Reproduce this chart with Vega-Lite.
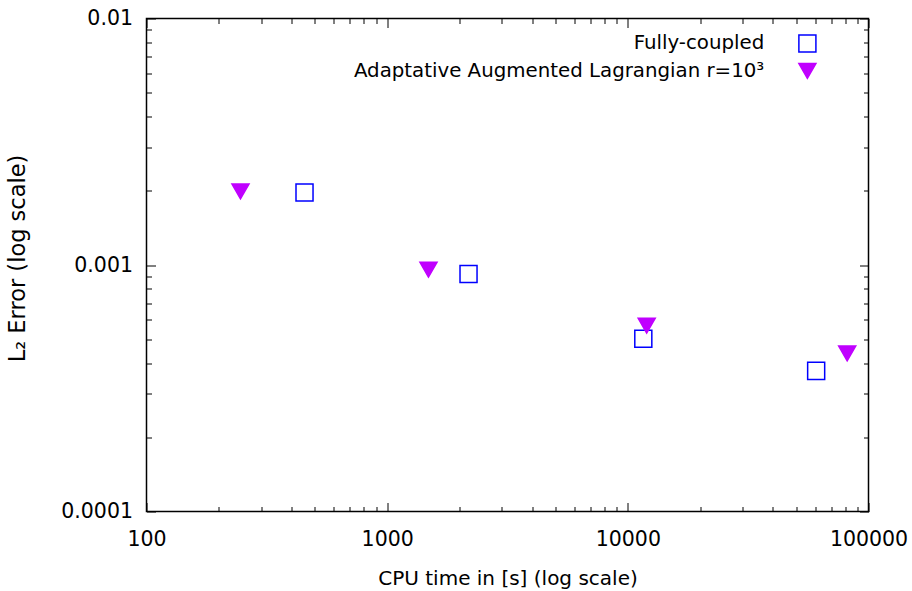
{
  "$schema": "https://vega.github.io/schema/vega-lite/v6.json",
  "width": 722,
  "height": 493,
  "autosize": {"type": "none"},
  "padding": {"left": 146.5, "top": 18.5, "right": 43.5, "bottom": 79.5},
  "background": "white",
  "config": {
    "view": {"stroke": "black", "strokeWidth": 1.5},
    "font": "DejaVu Sans",
    "axis": {"grid": false, "domain": false, "tickColor": "black", "tickWidth": 1, "labelColor": "black", "titleColor": "black", "labelFont": "DejaVu Sans", "titleFont": "DejaVu Sans", "labelFontSize": 20.5, "titleFontSize": 20, "titleFontWeight": "normal", "labelFlush": false, "labelOverlap": false, "labelBound": false}
  },
  "datasets": {
    "pts": [
      {"cpu": 453.5, "err": 0.001968, "method": "Fully-coupled"},
      {"cpu": 2178, "err": 0.000919, "method": "Fully-coupled"},
      {"cpu": 11596, "err": 0.000502, "method": "Fully-coupled"},
      {"cpu": 60610, "err": 0.000372, "method": "Fully-coupled"},
      {"cpu": 245.8, "err": 0.001987, "method": "Adaptative Augmented Lagrangian r=10³"},
      {"cpu": 1485, "err": 0.000957, "method": "Adaptative Augmented Lagrangian r=10³"},
      {"cpu": 11978, "err": 0.000567, "method": "Adaptative Augmented Lagrangian r=10³"},
      {"cpu": 81560, "err": 0.000438, "method": "Adaptative Augmented Lagrangian r=10³"}
    ]
  },
  "data": {"name": "pts"},
  "layer": [
    {
      "mark": {"type": "point", "size": 290, "strokeWidth": 1.5, "opacity": 1},
      "encoding": {
        "x": {"field": "cpu", "type": "quantitative",
          "scale": {"type": "log", "domain": [100, 100000], "nice": false},
          "axis": {"orient": "bottom", "values": [100, 1000, 10000, 100000], "format": "d", "tickSize": -9, "labelPadding": 27, "title": "CPU time in [s] (log scale)", "titleBaseline": "alphabetic", "titleY": 73, "titleX": 361}},
        "y": {"field": "err", "type": "quantitative",
          "scale": {"type": "log", "domain": [0.0001, 0.01], "nice": false},
          "axis": {"orient": "left", "values": [0.0001, 0.001, 0.01], "labelExpr": "datum.value >= 0.005 ? '0.01' : datum.value >= 0.0005 ? '0.001' : '0.0001'", "tickSize": -9, "labelPadding": 23, "title": "L₂ Error (log scale)", "titleFontSize": 22.5, "titleBaseline": "alphabetic", "titleAngle": -90, "titleX": -122, "titleY": 239.5}},
        "shape": {"field": "method", "type": "nominal",
          "scale": {"domain": ["Fully-coupled", "Adaptative Augmented Lagrangian r=10³"], "range": ["square", "triangle-down"]},
          "legend": {"orient": "none", "legendX": 651, "legendY": 15, "title": null, "padding": 0, "labelFont": "DejaVu Sans", "labelFontSize": 19.8, "labelColor": "black", "labelAlign": "right", "labelOffset": -53, "labelLimit": 600, "symbolSize": 290, "symbolStrokeWidth": 1.5, "rowPadding": 4.5}},
        "stroke": {"field": "method", "type": "nominal",
          "scale": {"domain": ["Fully-coupled", "Adaptative Augmented Lagrangian r=10³"], "range": ["#0000ff", "#c000ff"]}},
        "fill": {"field": "method", "type": "nominal",
          "scale": {"domain": ["Fully-coupled", "Adaptative Augmented Lagrangian r=10³"], "range": ["transparent", "#c000ff"]}}
      }
    },
    {
      "mark": {"type": "point", "opacity": 0},
      "encoding": {
        "x": {"field": "cpu", "type": "quantitative", "scale": {"type": "log"},
          "axis": {"orient": "top", "values": [100, 1000, 10000, 100000], "tickSize": -9, "labels": false, "title": null}},
        "y": {"field": "err", "type": "quantitative", "scale": {"type": "log"},
          "axis": {"orient": "right", "values": [0.0001, 0.001, 0.01], "tickSize": -9, "labels": false, "title": null}}
      }
    },
    {
      "mark": {"type": "point", "opacity": 0},
      "encoding": {
        "x": {"field": "cpu", "type": "quantitative", "scale": {"type": "log"},
          "axis": {"orient": "bottom", "values": [200, 300, 400, 500, 600, 700, 800, 900, 2000, 3000, 4000, 5000, 6000, 7000, 8000, 9000, 20000, 30000, 40000, 50000, 60000, 70000, 80000, 90000], "tickSize": -5, "labels": false, "title": null}},
        "y": {"field": "err", "type": "quantitative", "scale": {"type": "log"},
          "axis": {"orient": "left", "values": [0.0002, 0.0003, 0.0004, 0.0005, 0.0006, 0.0007, 0.0008, 0.0009, 0.002, 0.003, 0.004, 0.005, 0.006, 0.007, 0.008, 0.009], "tickSize": -5, "labels": false, "title": null}}
      }
    },
    {
      "mark": {"type": "point", "opacity": 0},
      "encoding": {
        "x": {"field": "cpu", "type": "quantitative", "scale": {"type": "log"},
          "axis": {"orient": "top", "values": [200, 300, 400, 500, 600, 700, 800, 900, 2000, 3000, 4000, 5000, 6000, 7000, 8000, 9000, 20000, 30000, 40000, 50000, 60000, 70000, 80000, 90000], "tickSize": -5, "labels": false, "title": null}},
        "y": {"field": "err", "type": "quantitative", "scale": {"type": "log"},
          "axis": {"orient": "right", "values": [0.0002, 0.0003, 0.0004, 0.0005, 0.0006, 0.0007, 0.0008, 0.0009, 0.002, 0.003, 0.004, 0.005, 0.006, 0.007, 0.008, 0.009], "tickSize": -5, "labels": false, "title": null}}
      }
    }
  ],
  "resolve": {"axis": {"x": "independent", "y": "independent"}}
}
